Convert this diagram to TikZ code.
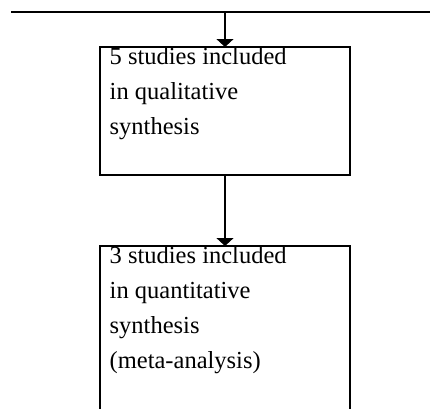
\documentclass[tikz,border=0pt]{standalone}
\usepackage{fontspec}
\setmainfont{Liberation Serif}
\usepackage{tikz}
\usetikzlibrary{arrows.meta,positioning}

\begin{document}
\begin{tikzpicture}[x=1pt,y=1pt,
  box/.style={draw, line width=1.2pt, minimum width=250pt, inner sep=0pt, outer sep=0pt},
  txt/.style={align=left, inner sep=0pt, font=\fontsize{24.5}{35}\selectfont},
  arr/.style={-{Triangle[width=17pt,length=8pt]}, line width=1.2pt}]
\useasboundingbox (0,0) rectangle (430,-408);

\coordinate(O1) at (0,0);
\coordinate(l0) at (11,-12);
\coordinate(l1) at (430,-12);
\coordinate(lm) at (225,-12);

\node[below right=47pt and 100pt of O1, box, minimum height=128pt](q) {};
\node[below right=246pt and 100pt of O1, box, minimum height=174pt](m) {};

\node[below right=0pt and 9.5pt of q.north west, txt](qt) {5 studies included\\in qualitative\\synthesis};
\node[below right=0pt and 9.5pt of m.north west, txt](mt) {3 studies included\\in quantitative\\synthesis\\(meta-analysis)};

\draw[line width=1.2pt] (l0) -- (l1);
\draw[arr] (lm) -- (q);
\draw[arr] (q) -- (m);
\end{tikzpicture}
\end{document}
